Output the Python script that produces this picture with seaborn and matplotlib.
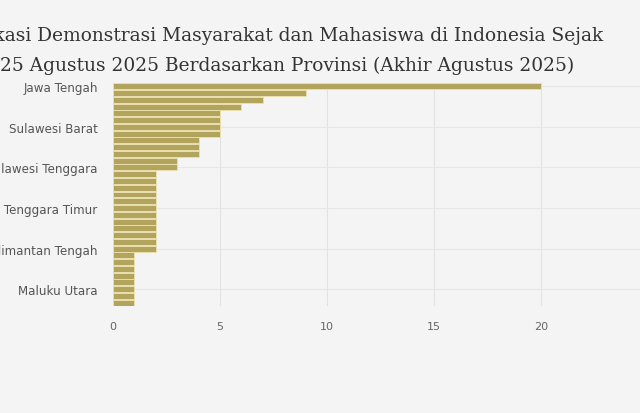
import matplotlib
matplotlib.use("Agg")
import matplotlib.pyplot as plt
import seaborn as sns
import pandas as pd

# provinsi, urut dari jumlah terbanyak (hanya tiap label ke-6 yang tampil di sumbu)
provinsi = ["Jawa Tengah", "DKI Jakarta", "Jawa Barat", "Jawa Timur",
            "Sulawesi Selatan", "Sumatera Utara", "Sulawesi Barat", "DI Yogyakarta",
            "Bali", "Nusa Tenggara Barat", "Kalimantan Selatan", "Sumatera Barat",
            "Sulawesi Tenggara", "Aceh", "Riau", "Jambi",
            "Sumatera Selatan", "Lampung", "Nusa Tenggara Timur", "Banten",
            "Kalimantan Barat", "Kalimantan Timur", "Sulawesi Utara", "Sulawesi Tengah",
            "Kalimantan Tengah", "Bengkulu", "Kepulauan Riau", "Gorontalo",
            "Maluku", "Papua", "Maluku Utara", "Kepulauan Bangka Belitung",
            "Papua Barat"]
jumlah = [20, 9, 7, 6,
          5, 5, 5, 5,
          4, 4, 4, 3,
          3, 2, 2, 2,
          2, 2, 2, 2,
          2, 2, 2, 2,
          2, 1, 1, 1,
          1, 1, 1, 1,
          1]
x_ticks = [0, 5, 10, 15, 20, 25]

judul = ("Lokasi Demonstrasi Masyarakat dan Mahasiswa di Indonesia Sejak\n"
         "25 Agustus 2025 Berdasarkan Provinsi (Akhir Agustus 2025)")

df = pd.DataFrame({"provinsi": provinsi, "jumlah": jumlah})

bg = "#f4f4f4"
sns.set_style("white")
plt.rcParams["font.family"] = ["DejaVu Sans"]

fig = plt.figure(figsize=(6.4, 4.14), dpi=100, facecolor=bg)
ax = fig.add_axes([113 / 640, 1 - 307 / 414, 535 / 640, 223 / 414])
ax.set_facecolor(bg)

sns.barplot(data=df, x="jumlah", y="provinsi", orient="h", color="#b2a45c",
            saturation=1, width=0.88, edgecolor="#ece2b0", linewidth=0.6, ax=ax)

ax.set_xlim(0, 25)
ax.set_ylim(len(provinsi) - 0.5, -0.5)
ax.set_xticks(x_ticks)
ax.set_xticklabels([str(t) for t in x_ticks], fontsize=8, color="#666666")
idx = list(range(0, len(provinsi), 6))
ax.set_yticks(idx)
ax.set_yticklabels([provinsi[i] for i in idx], fontsize=8.6, color="#555555")
ax.tick_params(axis="both", length=0)
ax.tick_params(axis="y", pad=11)
ax.tick_params(axis="x", pad=11)
ax.set_xlabel("")
ax.set_ylabel("")
ax.grid(True, axis="x", color="#e2e2e2", linewidth=0.8)
ax.grid(True, axis="y", color="#e6e6e6", linewidth=0.8)
ax.set_axisbelow(True)
for s in ax.spines.values():
    s.set_visible(False)

fig.text(287 / 640, 1 - 27 / 414, judul, ha="center", va="top", fontsize=13.4,
         family="DejaVu Serif", color="#333333", linespacing=1.85)

fig.savefig("out.png", dpi=100, facecolor=bg)
